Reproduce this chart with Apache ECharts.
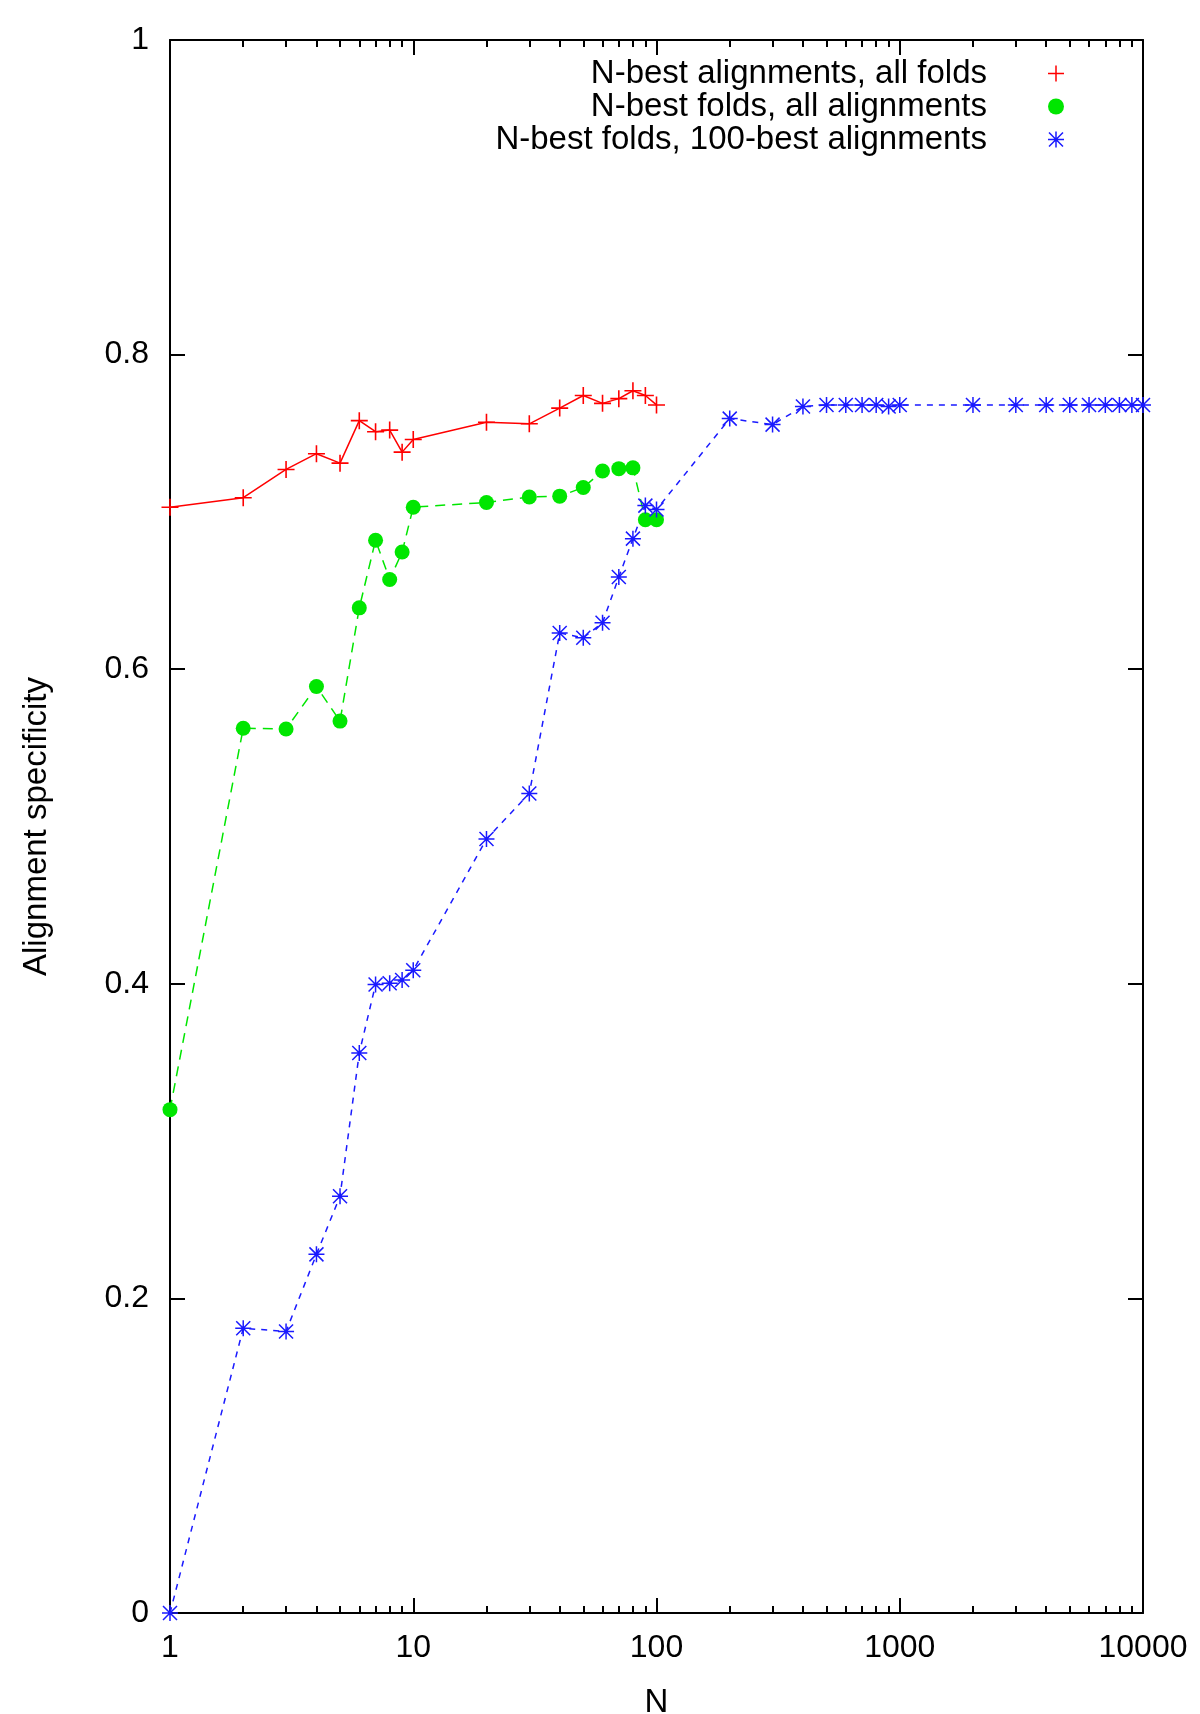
<!DOCTYPE html>
<html>
<head>
<meta charset="utf-8">
<script src="https://cdn.jsdelivr.net/npm/echarts@6/dist/echarts.min.js"></script>
<style>
  html, body { margin: 0; padding: 0; background: #fff; }
  #chart { width: 1200px; height: 1714px; }
</style>
</head>
<body>
<div id="chart"></div>
<script>
// N values and specificity per curve
const N_ALIGN = [1, 2, 3, 4, 5, 6, 7, 8, 9, 10, 20, 30, 40, 50, 60, 70, 80, 90, 100];
const SPEC_ALIGN = [0.703, 0.709, 0.727, 0.737, 0.731, 0.758, 0.751, 0.752, 0.738, 0.746,
  0.757, 0.756, 0.766, 0.774, 0.769, 0.772, 0.777, 0.774, 0.768];

const N_FOLDS = [1, 2, 3, 4, 5, 6, 7, 8, 9, 10, 20, 30, 40, 50, 60, 70, 80, 90, 100];
const SPEC_FOLDS = [0.320, 0.5625, 0.562, 0.589, 0.567, 0.639, 0.682, 0.657, 0.6745, 0.703,
  0.706, 0.7095, 0.710, 0.7155, 0.726, 0.7275, 0.728, 0.695, 0.695];

const N_FOLDS100 = [1, 2, 3, 4, 5, 6, 7, 8, 9, 10, 20, 30, 40, 50, 60, 70, 80, 90, 100,
  200, 300, 400, 500, 600, 700, 800, 900, 1000,
  2000, 3000, 4000, 5000, 6000, 7000, 8000, 9000, 10000];
const SPEC_FOLDS100 = [0, 0.181, 0.179, 0.228, 0.265, 0.356, 0.3996, 0.4003, 0.4024, 0.4086,
  0.492, 0.521, 0.623, 0.620, 0.6295, 0.6586, 0.683, 0.704, 0.7015,
  0.7593, 0.7555, 0.767, 0.768, 0.768, 0.768, 0.768, 0.767, 0.768,
  0.768, 0.768, 0.768, 0.768, 0.768, 0.768, 0.768, 0.768, 0.768];

const SERIES_NAMES = [
  'N-best alignments, all folds',
  'N-best folds, all alignments',
  'N-best folds, 100-best alignments'
];

const MAJOR_TICKS = [1, 10, 100, 1000, 10000];
const MINOR_TICKS = [2, 3, 4, 5, 6, 7, 8, 9, 20, 30, 40, 50, 60, 70, 80, 90,
  200, 300, 400, 500, 600, 700, 800, 900, 2000, 3000, 4000, 5000, 6000, 7000, 8000, 9000];

const FONT = 'Liberation Sans, Arial, Helvetica, sans-serif';

// gnuplot style point shapes
const PLUS = 'path://M0,7.25H16V8.75H0Z M7.25,0H8.75V16H7.25Z';
const STAR = 'path://M0,7.25H16V8.75H0Z M7.25,0H8.75V16H7.25Z ' +
  'M0.47,1.53L1.53,0.47L15.53,14.47L14.47,15.53Z M14.47,0.47L15.53,1.53L1.53,15.53L0.47,14.47Z';

const pairs = (xs, ys) => xs.map((x, i) => [x, ys[i]]);

const chart = echarts.init(document.getElementById('chart'));

const gridRect = { left: 170, right: 57, top: 40, bottom: 101, outerBoundsMode: 'none', containLabel: false };
const black = { color: '#000', width: 2 };

const logAxis = (opts) => Object.assign({
  type: 'log',
  logBase: 10,
  min: 1,
  max: 10000,
  splitLine: { show: false },
  axisLine: { show: true, onZero: false, lineStyle: black },
  axisLabel: { show: false }
}, opts);

chart.setOption({
  animation: false,
  backgroundColor: '#fff',
  textStyle: { fontFamily: FONT },
  // second grid only carries the minor ticks of the log axis
  grid: [Object.assign({}, gridRect), Object.assign({}, gridRect)],
  legend: {
    orient: 'vertical',
    align: 'right',
    right: 131,
    top: 52,
    itemWidth: 16,
    itemHeight: 16,
    itemGap: 0,
    textStyle: { fontSize: 33, color: '#000', fontFamily: FONT, lineHeight: 33, padding: [0, 56, 0, 0] },
    data: [
      { name: SERIES_NAMES[0], icon: PLUS },
      { name: SERIES_NAMES[1], icon: 'circle' },
      { name: SERIES_NAMES[2], icon: STAR }
    ]
  },
  xAxis: [
    logAxis({
      gridIndex: 0,
      position: 'bottom',
      name: 'N',
      nameLocation: 'middle',
      nameGap: 73,
      nameTextStyle: { fontSize: 33, color: '#000', fontFamily: FONT },
      axisTick: { inside: true, length: 15, customValues: MAJOR_TICKS, lineStyle: black },
      axisLabel: {
        show: true,
        customValues: MAJOR_TICKS,
        margin: 19,
        fontSize: 32,
        color: '#000',
        fontFamily: FONT,
        formatter: (v) => String(Math.round(v))
      }
    }),
    logAxis({
      gridIndex: 0,
      position: 'top',
      axisTick: { inside: true, length: 15, customValues: MAJOR_TICKS, lineStyle: black }
    }),
    logAxis({
      gridIndex: 1,
      position: 'bottom',
      axisLine: { show: false, onZero: false },
      axisTick: { inside: true, length: 7, customValues: MINOR_TICKS, lineStyle: black }
    }),
    logAxis({
      gridIndex: 1,
      position: 'top',
      axisLine: { show: false, onZero: false },
      axisTick: { inside: true, length: 7, customValues: MINOR_TICKS, lineStyle: black }
    })
  ],
  yAxis: [
    {
      gridIndex: 0,
      type: 'value',
      position: 'left',
      min: 0,
      max: 1,
      interval: 0.2,
      name: 'Alignment specificity',
      nameLocation: 'middle',
      nameGap: 117,
      nameTextStyle: { fontSize: 33, color: '#000', fontFamily: FONT },
      splitLine: { show: false },
      axisLine: { show: true, onZero: false, lineStyle: black },
      axisTick: { show: true, inside: true, length: 15, lineStyle: black },
      axisLabel: { margin: 21, fontSize: 32, color: '#000', fontFamily: FONT }
    },
    {
      gridIndex: 0,
      type: 'value',
      position: 'right',
      min: 0,
      max: 1,
      interval: 0.2,
      splitLine: { show: false },
      axisLine: { show: true, onZero: false, lineStyle: black },
      axisTick: { show: true, inside: true, length: 15, lineStyle: black },
      axisLabel: { show: false }
    },
    {
      gridIndex: 1,
      type: 'value',
      min: 0,
      max: 1,
      show: false
    }
  ],
  series: [
    {
      name: SERIES_NAMES[0],
      type: 'line',
      xAxisIndex: 0,
      yAxisIndex: 0,
      clip: false,
      data: pairs(N_ALIGN, SPEC_ALIGN),
      symbol: PLUS,
      symbolSize: 17,
      color: '#ff0000',
      itemStyle: { color: '#ff0000', borderWidth: 0 },
      lineStyle: { color: '#ff0000', width: 1.5, type: 'solid' }
    },
    {
      name: SERIES_NAMES[1],
      type: 'line',
      xAxisIndex: 0,
      yAxisIndex: 0,
      clip: false,
      data: pairs(N_FOLDS, SPEC_FOLDS),
      symbol: 'circle',
      symbolSize: 15,
      color: '#00e600',
      itemStyle: { color: '#00e600', borderWidth: 0 },
      lineStyle: { color: '#00e600', width: 1.5, type: [10, 7] }
    },
    {
      name: SERIES_NAMES[2],
      type: 'line',
      xAxisIndex: 0,
      yAxisIndex: 0,
      clip: false,
      data: pairs(N_FOLDS100, SPEC_FOLDS100),
      symbol: STAR,
      symbolSize: 16,
      color: '#1a1aff',
      itemStyle: { color: '#1a1aff', borderWidth: 0 },
      lineStyle: { color: '#1a1aff', width: 1.5, type: [6, 6] }
    }
  ]
});
</script>
</body>
</html>
